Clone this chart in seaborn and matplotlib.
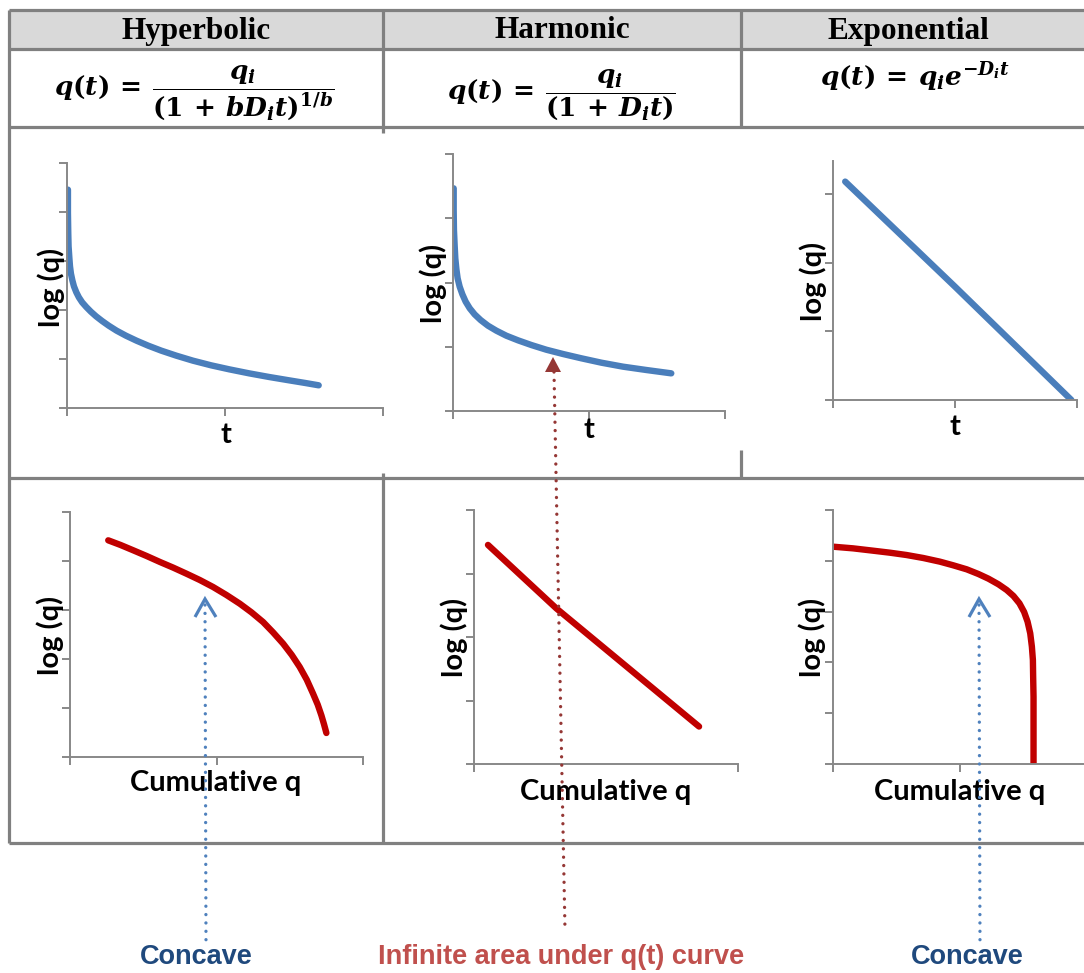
import matplotlib
matplotlib.use("Agg")
import matplotlib.pyplot as plt
import pandas as pd
import seaborn as sns
from matplotlib import font_manager

sns.set_style("white")
plt.rcParams["font.family"] = ["Lato", "DejaVu Sans"]
plt.rcParams["text.color"] = "black"
plt.rcParams["axes.labelcolor"] = "black"
plt.rcParams["mathtext.fontset"] = "custom"
plt.rcParams["mathtext.rm"] = "DejaVu Serif:bold"
plt.rcParams["mathtext.bf"] = "DejaVu Serif:bold"
plt.rcParams["mathtext.it"] = "DejaVu Serif:italic:bold"

# ---------------- data (arbitrary units, log(q) axes) ----------------
columns = ["Hyperbolic", "Harmonic", "Exponential"]
formulas = [
    r"$q(t)\,=\,\dfrac{q_i}{(1\,+\,bD_it)^{1/b}}$",
    r"$q(t)\,=\,\dfrac{q_i}{(1\,+\,D_it)}$",
    r"$q(t)\,=\,q_ie^{-D_it}$",
]
notes = ["Concave", "Infinite area under q(t) curve", "Concave"]

hyp_t_x = [0.006, 0.006, 0.008, 0.010, 0.015, 0.019, 0.025, 0.034, 0.044, 0.059,
           0.075, 0.096, 0.122, 0.151, 0.184, 0.222, 0.264, 0.314, 0.373, 0.440,
           0.514, 0.597, 0.692, 0.797, 0.912, 1.027, 1.153, 1.279, 1.405, 1.509,
           1.593]
hyp_t_y = [4.456, 3.980, 3.571, 3.299, 3.061, 2.891, 2.741, 2.605, 2.483, 2.361,
           2.259, 2.156, 2.061, 1.966, 1.871, 1.776, 1.680, 1.578, 1.476, 1.374,
           1.272, 1.170, 1.068, 0.966, 0.871, 0.789, 0.707, 0.633, 0.565, 0.510,
           0.463]

har_t_x = [0.005, 0.005, 0.007, 0.012, 0.017, 0.025, 0.034, 0.049, 0.069, 0.093,
           0.123, 0.159, 0.203, 0.257, 0.319, 0.392, 0.478, 0.576, 0.686, 0.809,
           0.944, 1.091, 1.250, 1.422, 1.605]
har_t_y = [3.466, 3.128, 2.817, 2.583, 2.376, 2.205, 2.065, 1.935, 1.816, 1.702,
           1.598, 1.504, 1.416, 1.328, 1.250, 1.172, 1.100, 1.027, 0.954, 0.887,
           0.820, 0.752, 0.690, 0.638, 0.586]

exp_t_x = [0.10, 1.00, 1.954]
exp_t_y = [3.18, 1.65, 0.00]

hyp_cum_x = [0.261, 0.345, 0.432, 0.523, 0.614, 0.705, 0.795, 0.886, 0.977, 1.068,
             1.159, 1.239, 1.318, 1.386, 1.455, 1.514, 1.568, 1.616, 1.659, 1.691,
             1.716, 1.734, 1.750]
hyp_cum_y = [4.422, 4.327, 4.218, 4.102, 3.980, 3.864, 3.741, 3.612, 3.469, 3.306,
             3.129, 2.952, 2.755, 2.544, 2.313, 2.082, 1.837, 1.578, 1.293, 1.068,
             0.850, 0.667, 0.490]

har_cum_x = [0.106, 0.624, 1.705]
har_cum_y = [3.45, 2.45, 0.59]

exp_cum_x = [0.000, 0.158, 0.316, 0.447, 0.579, 0.711, 0.842, 0.947, 1.053, 1.145,
             1.224, 1.303, 1.368, 1.421, 1.468, 1.505, 1.532, 1.553, 1.566, 1.574,
             1.576, 1.579, 1.579, 1.579, 1.579]
exp_cum_y = [4.278, 4.245, 4.199, 4.160, 4.114, 4.055, 3.983, 3.911, 3.832, 3.740,
             3.648, 3.537, 3.425, 3.307, 3.163, 2.992, 2.802, 2.572, 2.310, 2.047,
             1.719, 1.325, 0.866, 0.407, -0.020]

# ---------------- styling ----------------
W, H = 1084, 973
GRID = "#808080"
AXIS = "#888888"
BLUE = "#4a7ebb"
RED = "#c00000"
DARK_RED = "#953735"
NOTE_BLUE = "#1f497d"
NOTE_RED = "#c0504d"
ARROW_BLUE = "#4f81bd"
LABEL_SIZE = 21

names = {f.name for f in font_manager.fontManager.ttflist}
if "Liberation Sans Narrow" in names:
    note_font, note_size = "Liberation Sans Narrow", 23.5
else:
    note_font, note_size = "Liberation Sans", 19.5

fig = plt.figure(figsize=(W / 100, H / 100), dpi=100)


def fx(px):
    return px / W


def fy(py):
    return 1 - py / H


# table background layer
bg = fig.add_axes([0, 0, 1, 1], zorder=0)
bg.set_xlim(0, W)
bg.set_ylim(H, 0)
bg.axis("off")
bg.fill_between([9, W + 5], 10, 49, color="#d9d9d9", lw=0)
lw_grid = 2.3
for yy in [10, 49, 127, 478, 843]:
    bg.plot([9, W + 5], [yy, yy], color=GRID, lw=lw_grid, solid_capstyle="butt")
vsegs = [(9, 10, 843), (383, 10, 133), (383, 473, 843), (741, 10, 127), (741, 450, 478)]
for x, y0, y1 in vsegs:
    bg.plot([x, x], [y0, y1], color=GRID, lw=lw_grid, solid_capstyle="butt")

head_x = [196, 562, 908]
for x, name in zip(head_x, columns):
    bg.text(x, 31, name, ha="center", va="center", family="Liberation Serif",
            weight="bold", size=22.5, color="black")
form_pos = [(194, 93), (561, 95), (915, 77)]
for (x, y), f in zip(form_pos, formulas):
    bg.text(x, y, f, ha="center", va="center", size=19, color="black")


def make_axes(box, xs, ys, color, xticks, yticks, xlim, ylim, xlabel, xl_pos, yl_pos):
    left, top, right, bottom = box
    ax = fig.add_axes([fx(left), fy(bottom), (right - left) / W, (bottom - top) / H], zorder=1)
    ax.patch.set_alpha(0)
    df = pd.DataFrame({"x": xs, "y": ys})
    sns.lineplot(data=df, x="x", y="y", ax=ax, color=color, linewidth=4.6,
                 sort=False, estimator=None, solid_capstyle="round",
                 solid_joinstyle="round")
    ax.set_xlim(*xlim)
    ax.set_ylim(*ylim)
    ax.set_xticks(xticks)
    ax.set_yticks(yticks)
    ax.tick_params(axis="both", which="both", direction="out", length=5.8, width=1.4,
                   color=AXIS, bottom=True, left=True, labelbottom=False, labelleft=False)
    for s in ["top", "right"]:
        ax.spines[s].set_visible(False)
    for s in ["left", "bottom"]:
        ax.spines[s].set_color(AXIS)
        ax.spines[s].set_linewidth(1.4)
    ax.set_xlabel(xlabel, fontsize=LABEL_SIZE, fontweight="bold", va="center", ha="center")
    ax.set_ylabel("log (q)", fontsize=LABEL_SIZE, fontweight="bold", va="center", ha="center")
    ax.xaxis.set_label_coords(fx(xl_pos[0]), fy(xl_pos[1]), transform=fig.transFigure)
    ax.yaxis.set_label_coords(fx(yl_pos[0]), fy(yl_pos[1]), transform=fig.transFigure)
    return ax


make_axes((67, 163, 383, 408), hyp_t_x, hyp_t_y, BLUE, [0, 1, 2], range(6),
          (0, 2), (0, 5), "t", (226, 435), (51, 287))
make_axes((453, 154, 725, 411), har_t_x, har_t_y, BLUE, [0, 1, 2], range(5),
          (0, 2), (0, 4), "t", (589, 430), (433, 283))
make_axes((833, 161, 1077, 400), exp_t_x, exp_t_y, BLUE, [0, 1, 2], range(4),
          (0, 2), (0, 3.48), "t", (955, 427), (813, 281))
make_axes((70, 512, 363, 757), hyp_cum_x, hyp_cum_y, RED, [0, 1, 2], range(6),
          (0, 2), (0, 5), "Cumulative q", (216, 783), (50, 635))
make_axes((474, 510, 738, 764), har_cum_x, har_cum_y, RED, [0, 2], range(5),
          (0, 2), (0, 4), "Cumulative q", (606, 792), (454, 637))
make_axes((833, 510, 1087, 764), exp_cum_x, exp_cum_y, RED, [0, 1, 2], range(6),
          (0, 2), (0, 5), "Cumulative q", (960, 792), (812, 637))

# annotation layer
top = fig.add_axes([0, 0, 1, 1], zorder=3)
top.set_xlim(0, W)
top.set_ylim(H, 0)
top.axis("off")
dots = (0, (0.01, 2.5))
# harmonic note: dotted pointer with filled head
top.plot([554, 565], [372, 930], color=DARK_RED, lw=2.4, linestyle=dots,
         dash_capstyle="round")
top.fill([553, 545, 561], [357, 372, 372], color=DARK_RED, lw=0)
# concave notes: dotted pointers with open heads
for x in [205, 979]:
    top.plot([x, x + 1], [605, 945], color=ARROW_BLUE, lw=2.4, linestyle=dots,
             dash_capstyle="round")
    top.plot([x - 10, x, x + 11], [617, 599, 617], color=ARROW_BLUE, lw=2.3,
             solid_joinstyle="miter", solid_capstyle="butt")

note_pos = [(196, 957, NOTE_BLUE), (561, 957, NOTE_RED), (967, 957, NOTE_BLUE)]
for (x, y, c), txt in zip(note_pos, notes):
    top.text(x, y, txt, ha="center", va="center", family=note_font, weight="bold",
             size=note_size, color=c)

fig.savefig("out.png", dpi=100)
